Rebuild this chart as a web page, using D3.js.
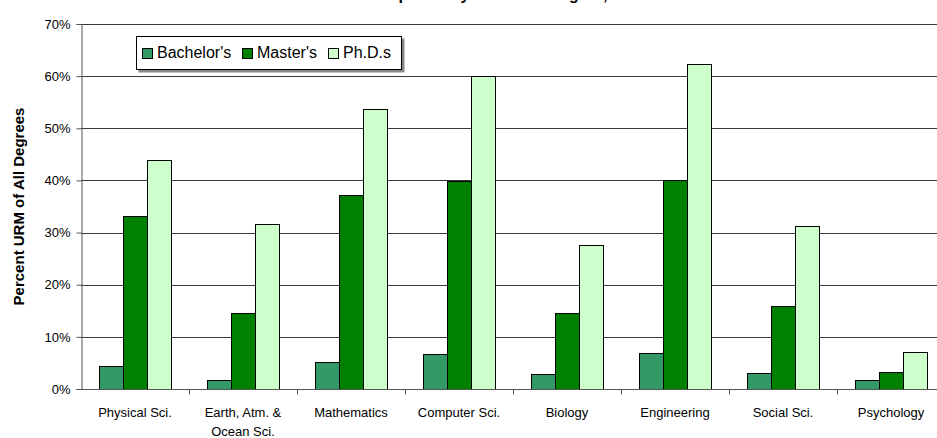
<!DOCTYPE html>
<html>
<head>
<meta charset="utf-8">
<script src="https://cdn.jsdelivr.net/npm/d3@7"></script>
<style>
  body { margin: 0; background: #fff; }
  svg { display: block; font-family: Arial, "Liberation Sans", sans-serif; }
</style>
</head>
<body>
<script>
// data
const categories = ['Physical Sci.', 'Earth, Atm. &|Ocean Sci.', 'Mathematics', 'Computer Sci.',
    'Biology', 'Engineering', 'Social Sci.', 'Psychology'];
const seriesNames = ["Bachelor's", "Master's", 'Ph.D.s'];
const bachelors = [4.4, 1.7, 5.2, 6.7, 2.8, 6.9, 3.1, 1.7];
const masters = [33.1, 14.6, 37.2, 39.8, 14.6, 40.1, 16.0, 3.3];
const phds = [43.9, 31.7, 53.7, 60.1, 27.7, 62.3, 31.2, 7.1];
const yTicks = [0, 10, 20, 30, 40, 50, 60, 70];
const colors = ['#339966', '#008000', '#ccffcc'];

const width = 937, height = 438;
const margin = { left: 81, top: 24, bottom: 389 };

const svg = d3.select('body').append('svg')
    .attr('width', width)
    .attr('height', height);

// title (only its descenders show at the top edge, as in the reference)
svg.append('text')
    .attr('x', 478)
    .attr('y', 0)
    .attr('text-anchor', 'middle')
    .attr('font-weight', 'bold')
    .attr('font-size', 16)
    .text('URM Participation by Field and Degree, 2005');

const x = d3.scaleBand().domain(categories).range([margin.left, margin.left + 864]);
const xs = d3.scaleBand().domain(seriesNames).range([0, 72]);
const y = d3.scaleLinear().domain([0, 70]).range([margin.bottom, margin.top]);

// gridlines
svg.append('g')
    .selectAll('line')
    .data(yTicks.filter(d => d > 0))
    .join('line')
    .attr('x1', margin.left)
    .attr('x2', width)
    .attr('y1', d => Math.round(y(d)) + 0.5)
    .attr('y2', d => Math.round(y(d)) + 0.5)
    .attr('stroke', '#3a3a3a')
    .attr('stroke-width', 1);

// bars
const table = categories.map((c, i) => ({ cat: c, vals: [bachelors[i], masters[i], phds[i]] }));
const groups = svg.append('g')
    .selectAll('g')
    .data(table)
    .join('g')
    .attr('transform', d => `translate(${x(d.cat) + 18},0)`);

groups.selectAll('rect')
    .data(d => d.vals.map((v, j) => ({ name: seriesNames[j], v, j })))
    .join('rect')
    .attr('x', d => xs(d.name) + 0.5)
    .attr('y', d => Math.round(y(d.v)) + 0.5)
    .attr('width', xs.bandwidth())
    .attr('height', d => Math.round(y(0)) - Math.round(y(d.v)))
    .attr('fill', d => colors[d.j])
    .attr('stroke', '#000')
    .attr('stroke-width', 1);

// y axis
const yAxis = svg.append('g')
    .attr('transform', `translate(${margin.left + 0.5},0)`)
    .call(d3.axisLeft(y).tickValues(yTicks).tickFormat(d => d + '%').tickSize(5).tickPadding(6));
yAxis.selectAll('path, line').attr('stroke', '#555');
yAxis.selectAll('text').attr('font-size', 13).attr('fill', '#000').attr('font-family', 'Arial, "Liberation Sans", sans-serif');

// x axis
const xAxisG = svg.append('g').attr('transform', `translate(0,${Math.round(y(0)) + 0.5})`);
xAxisG.append('line')
    .attr('x1', margin.left).attr('x2', width)
    .attr('stroke', '#555');
xAxisG.selectAll('line.tick')
    .data(categories.slice(1).concat(['end']))
    .join('line')
    .attr('class', 'tick')
    .attr('x1', (d, i) => x(categories[0]) + (i + 1) * x.bandwidth() + 0.5)
    .attr('x2', (d, i) => x(categories[0]) + (i + 1) * x.bandwidth() + 0.5)
    .attr('y1', 0).attr('y2', 5)
    .attr('stroke', '#555');

const labels = xAxisG.selectAll('text')
    .data(categories)
    .join('text')
    .attr('x', d => x(d) + x.bandwidth() / 2)
    .attr('y', 27)
    .attr('text-anchor', 'middle')
    .attr('font-size', 13);
labels.each(function (d) {
    const parts = d.split('|');
    d3.select(this).selectAll('tspan')
        .data(parts)
        .join('tspan')
        .attr('x', x(d) + x.bandwidth() / 2)
        .attr('dy', (p, k) => k === 0 ? 0 : 19)
        .text(p => p);
});

// y title
svg.append('text')
    .attr('transform', `translate(24,${(margin.top + margin.bottom) / 2}) rotate(-90)`)
    .attr('text-anchor', 'middle')
    .attr('font-weight', 'bold')
    .attr('font-size', 15)
    .text('Percent URM of All Degrees');

// legend
const legend = svg.append('g').attr('transform', 'translate(136,36)');
legend.append('rect')
    .attr('x', 2.5).attr('y', 2.5).attr('width', 266).attr('height', 34)
    .attr('fill', '#888');
legend.append('rect')
    .attr('x', 0.5).attr('y', 0.5).attr('width', 265).attr('height', 33)
    .attr('fill', '#fff').attr('stroke', '#000');
const legendX = [6, 106, 192];
const items = legend.selectAll('g.item')
    .data(seriesNames)
    .join('g')
    .attr('class', 'item')
    .attr('transform', (d, i) => `translate(${legendX[i]},0)`);
items.append('rect')
    .attr('x', 0.5).attr('y', 12.5).attr('width', 10).attr('height', 10)
    .attr('fill', (d, i) => colors[i])
    .attr('stroke', '#000');
items.append('text')
    .attr('x', 15)
    .attr('y', 22)
    .attr('font-size', 16)
    .text(d => d);
</script>
</body>
</html>
